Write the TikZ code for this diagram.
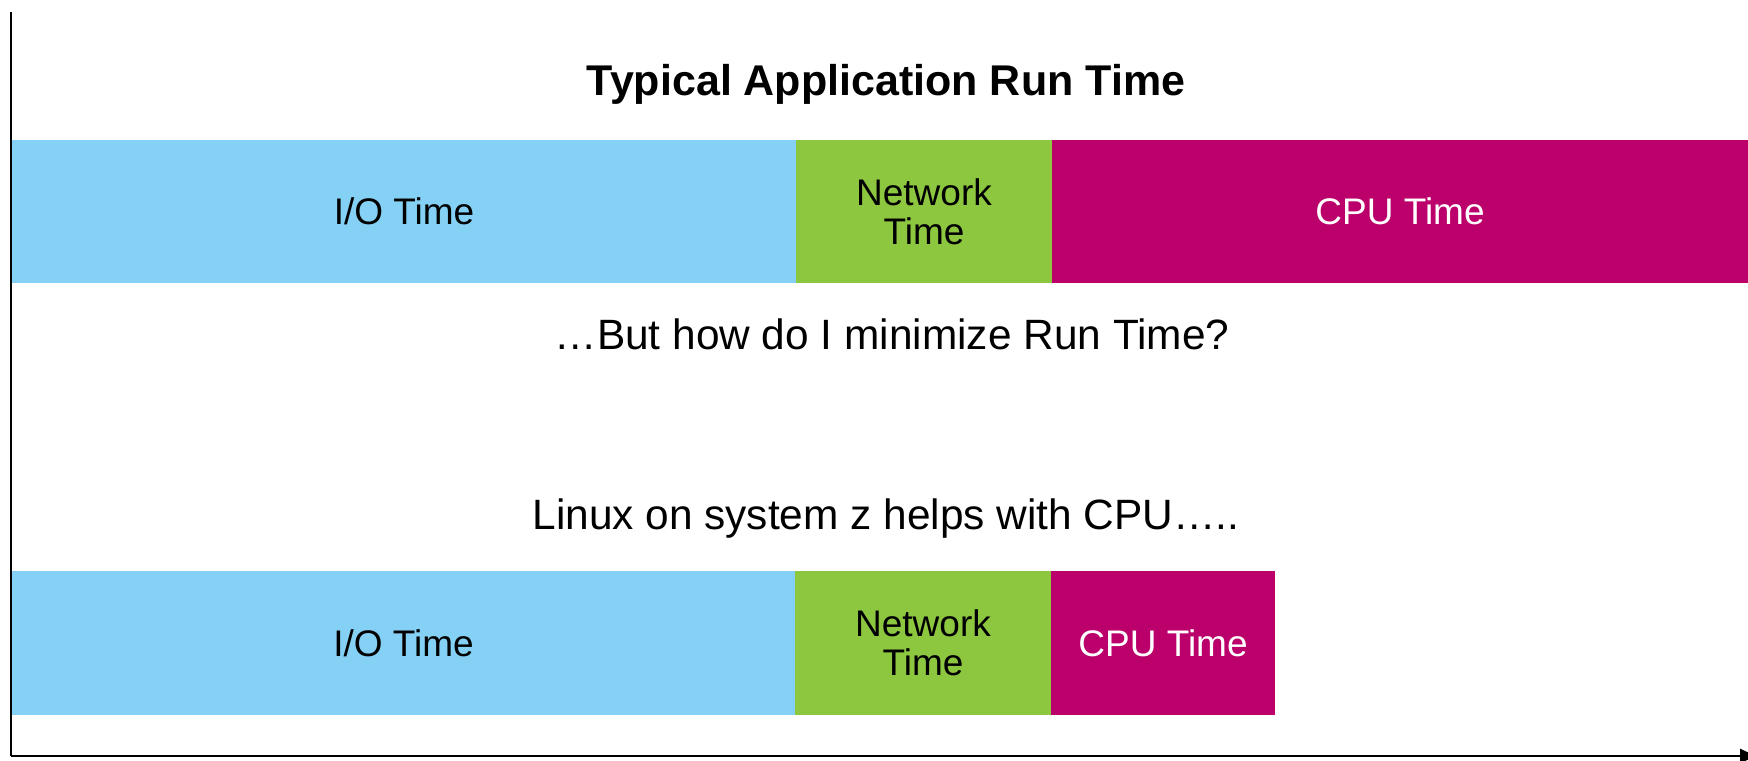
\documentclass[tikz,border=0pt]{standalone}
\usepackage{fontspec}
\setmainfont{Liberation Sans}
\usetikzlibrary{arrows.meta}
\definecolor{iocol}{RGB}{132,209,245}
\definecolor{netcol}{RGB}{141,198,63}
\definecolor{cpucol}{RGB}{187,0,107}
\tikzset{
  seg/.style={draw=none, inner sep=0pt, align=center,
    font=\fontsize{18.5}{19.4}\selectfont},
  seglight/.style={seg, text=black},
  segdark/.style={seg, text=white},
  caption/.style={inner sep=0pt, font=\fontsize{21.2}{25}\selectfont},
  axis/.style={line width=1.3pt, black}
}
\begin{document}
\begin{tikzpicture}[x=0.5pt, y=-0.5pt]
  \useasboundingbox (0,0) rectangle (1748,760);

  % axes
  \coordinate (ytop) at (11,12);
  \coordinate (orig) at (11,756);
  \coordinate (xend) at (1756,756);
  \draw[axis] (ytop) -- (orig);
  \draw[axis, -{Triangle[length=8pt, width=7pt]}] (orig) -- (xend);

  % heading
  \node[caption, font=\fontsize{21.5}{25}\selectfont\bfseries] (title) at (886,84) {Typical Application Run Time};

  % current run time
  \node[seglight, fill=iocol, minimum width=392pt, minimum height=71.5pt] (io1) at (404,211.5) {I/O Time};
  \node[seglight, fill=netcol, minimum width=128pt, minimum height=71.5pt] (net1) at (924,211.5) {Network\\Time};
  \node[segdark, fill=cpucol, minimum width=348pt, minimum height=71.5pt] (cpu1) at (1400,211.5) {CPU Time};

  \node[caption] (question) at (892,334) {…But how do I minimize Run Time?};
  \node[caption] (linux) at (886,519) {Linux on system z helps with CPU…..};

  % reduced run time
  \node[seglight, fill=iocol, minimum width=391.5pt, minimum height=72pt] (io2) at (403.5,643) {I/O Time};
  \node[seglight, fill=netcol, minimum width=128pt, minimum height=72pt] (net2) at (923,643) {Network\\Time};
  \node[segdark, fill=cpucol, minimum width=112pt, minimum height=72pt] (cpu2) at (1163,643) {CPU Time};
\end{tikzpicture}
\end{document}
